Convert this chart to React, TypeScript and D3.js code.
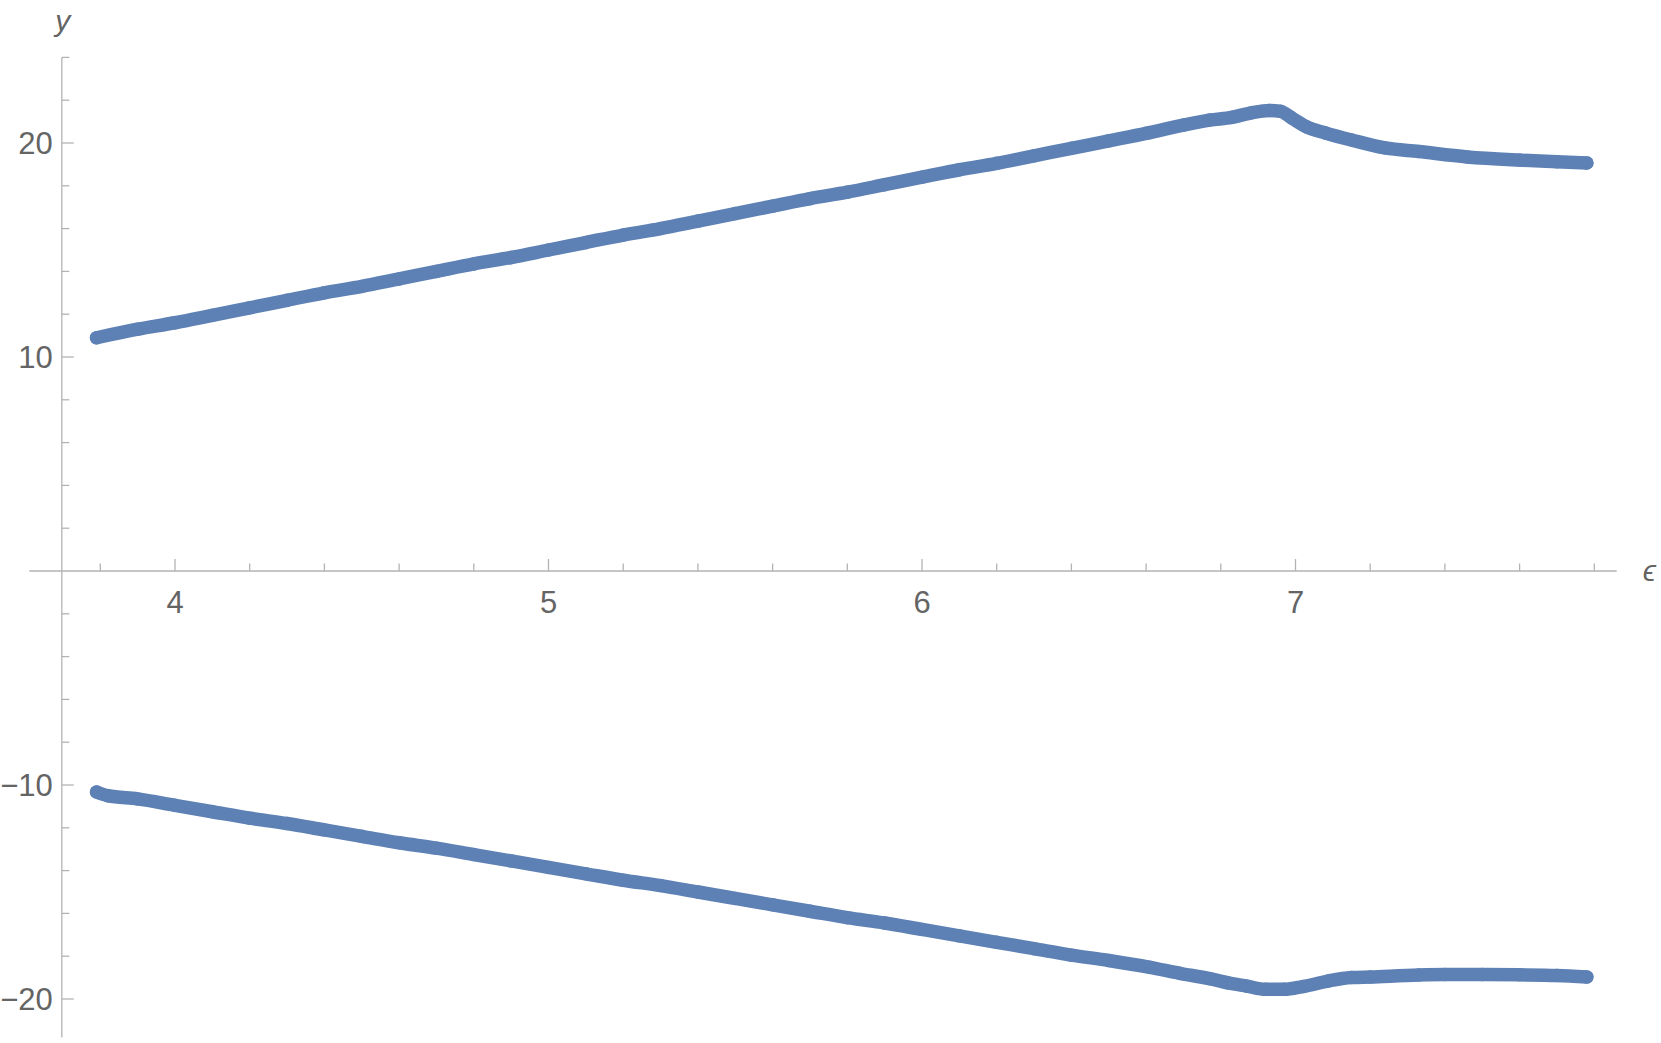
import React, { useEffect, useRef } from 'react';
import * as d3 from 'd3';

// values
const epsUpper = [3.79, 3.9, 4.0, 4.1, 4.2, 4.3, 4.4, 4.5, 4.6, 4.7, 4.8, 4.9, 5.0, 5.1, 5.2, 5.3, 5.4, 5.5, 5.6, 5.7, 5.8, 5.9, 6.0, 6.1, 6.2, 6.3, 6.4, 6.5, 6.6, 6.7, 6.77, 6.83, 6.88, 6.93, 6.96, 6.99, 7.03, 7.08, 7.15, 7.24, 7.33, 7.46, 7.6, 7.7, 7.78];
const yUpper = [10.9, 11.3, 11.6, 11.95, 12.3, 12.65, 13.0, 13.3, 13.65, 14.0, 14.35, 14.65, 15.0, 15.35, 15.7, 16.0, 16.35, 16.7, 17.05, 17.4, 17.7, 18.05, 18.4, 18.75, 19.05, 19.4, 19.75, 20.1, 20.45, 20.84, 21.07, 21.2, 21.4, 21.52, 21.48, 21.17, 20.75, 20.47, 20.14, 19.77, 19.6, 19.35, 19.2, 19.12, 19.07];

const epsLower = [3.79, 3.82, 3.9, 4.0, 4.1, 4.2, 4.3, 4.4, 4.5, 4.6, 4.7, 4.8, 4.9, 5.0, 5.1, 5.2, 5.3, 5.4, 5.5, 5.6, 5.7, 5.8, 5.9, 6.0, 6.1, 6.2, 6.3, 6.4, 6.5, 6.61, 6.69, 6.77, 6.82, 6.87, 6.92, 6.97, 7.02, 7.09, 7.15, 7.2, 7.33, 7.4, 7.5, 7.6, 7.7, 7.78];
const yLower = [-10.33, -10.5, -10.65, -10.95, -11.25, -11.55, -11.8, -12.1, -12.4, -12.7, -12.95, -13.25, -13.55, -13.85, -14.15, -14.45, -14.7, -15.0, -15.3, -15.6, -15.9, -16.2, -16.45, -16.75, -17.05, -17.35, -17.65, -17.95, -18.2, -18.52, -18.8, -19.05, -19.25, -19.4, -19.55, -19.55, -19.42, -19.15, -19.0, -18.97, -18.88, -18.86, -18.86, -18.87, -18.9, -18.97];

const xTickLabels = [4, 5, 6, 7];
const yTickLabels = [-20, -10, 10, 20];

const WIDTH = 1661, HEIGHT = 1043;
const COLOR = '#5e81b5';
const AXIS = '#b3b3b3';
const TEXT = '#646464';
const FONT = '"Liberation Sans", Arial, sans-serif';

export default function App() {
  const ref = useRef<SVGSVGElement | null>(null);

  useEffect(() => {
    const svg = d3.select(ref.current);
    svg.selectAll('*').remove();

    //SCALES
    const x = d3.scaleLinear().domain([4, 7]).range([175, 1295.5]);
    const y = d3.scaleLinear().domain([0, 20]).range([571, 143]);
    const x0 = 3.697; // where the y axis crosses

    //AXIS LINES
    svg.append('line')
      .attr('x1', x(3.61)).attr('x2', x(7.86))
      .attr('y1', y(0)).attr('y2', y(0))
      .attr('stroke', AXIS).attr('stroke-width', 1.3);
    svg.append('line')
      .attr('x1', x(x0)).attr('x2', x(x0))
      .attr('y1', y(24)).attr('y2', y(-21.8))
      .attr('stroke', AXIS).attr('stroke-width', 1.3);

    //X TICKS
    const xMinor = d3.range(3.8, 7.81, 0.2).filter(v => !xTickLabels.some(t => Math.abs(t - v) < 1e-6));
    svg.append('g').selectAll('line').data(xMinor).join('line')
      .attr('x1', d => x(d)).attr('x2', d => x(d))
      .attr('y1', y(0)).attr('y2', y(0) - 7.5)
      .attr('stroke', AXIS).attr('stroke-width', 1.3);
    svg.append('g').selectAll('line').data(xTickLabels).join('line')
      .attr('x1', d => x(d)).attr('x2', d => x(d))
      .attr('y1', y(0)).attr('y2', y(0) - 12)
      .attr('stroke', AXIS).attr('stroke-width', 1.3);
    svg.append('g').selectAll('text').data(xTickLabels).join('text')
      .attr('x', d => x(d)).attr('y', y(0) + 42)
      .attr('text-anchor', 'middle')
      .attr('font-family', FONT).attr('font-size', 31).attr('fill', TEXT)
      .text(d => String(d));

    //Y TICKS
    const yMinor = d3.range(-20, 25, 2).filter(v => v !== 0 && !yTickLabels.includes(v));
    svg.append('g').selectAll('line').data(yMinor).join('line')
      .attr('x1', x(x0)).attr('x2', x(x0) + 7.5)
      .attr('y1', d => y(d)).attr('y2', d => y(d))
      .attr('stroke', AXIS).attr('stroke-width', 1.3);
    svg.append('g').selectAll('line').data(yTickLabels).join('line')
      .attr('x1', x(x0)).attr('x2', x(x0) + 12)
      .attr('y1', d => y(d)).attr('y2', d => y(d))
      .attr('stroke', AXIS).attr('stroke-width', 1.3);
    svg.append('g').selectAll('text').data(yTickLabels).join('text')
      .attr('x', x(x0) - 9).attr('y', d => y(d) + 11)
      .attr('text-anchor', 'end')
      .attr('font-family', FONT).attr('font-size', 31).attr('fill', TEXT)
      .text(d => (d < 0 ? '\u2212' + Math.abs(d) : String(d)));

    //AXIS LABELS
    svg.append('text')
      .attr('x', x(x0) + 1).attr('y', 31)
      .attr('text-anchor', 'middle')
      .attr('font-family', FONT).attr('font-style', 'italic')
      .attr('font-size', 30).attr('fill', TEXT)
      .text('y');
    svg.append('text')
      .attr('x', x(7.86) + 26).attr('y', y(0) + 10)
      .attr('font-family', FONT).attr('font-style', 'italic')
      .attr('font-size', 30).attr('fill', TEXT)
      .text('\u03f5');

    //DATA
    const series = [
      epsUpper.map((e, i) => [e, yUpper[i]] as [number, number]),
      epsLower.map((e, i) => [e, yLower[i]] as [number, number]),
    ];
    const line = d3.line<[number, number]>()
      .curve(d3.curveMonotoneX)
      .x(d => x(d[0])).y(d => y(d[1]));
    series.forEach(pts => {
      svg.append('path')
        .datum(pts)
        .attr('fill', 'none')
        .attr('stroke', COLOR)
        .attr('stroke-width', 13.5)
        .attr('stroke-linejoin', 'round')
        .attr('stroke-linecap', 'round')
        .attr('d', line);
      svg.append('g').selectAll('circle').data(pts).join('circle')
        .attr('cx', d => x(d[0])).attr('cy', d => y(d[1]))
        .attr('r', 6.75).attr('fill', COLOR);
    });
  }, []);

  return (
    <div style={{ position: 'absolute', left: 0, top: 0, background: '#fff' }}>
      <svg ref={ref} width={WIDTH} height={HEIGHT} style={{ display: 'block' }} />
    </div>
  );
}
